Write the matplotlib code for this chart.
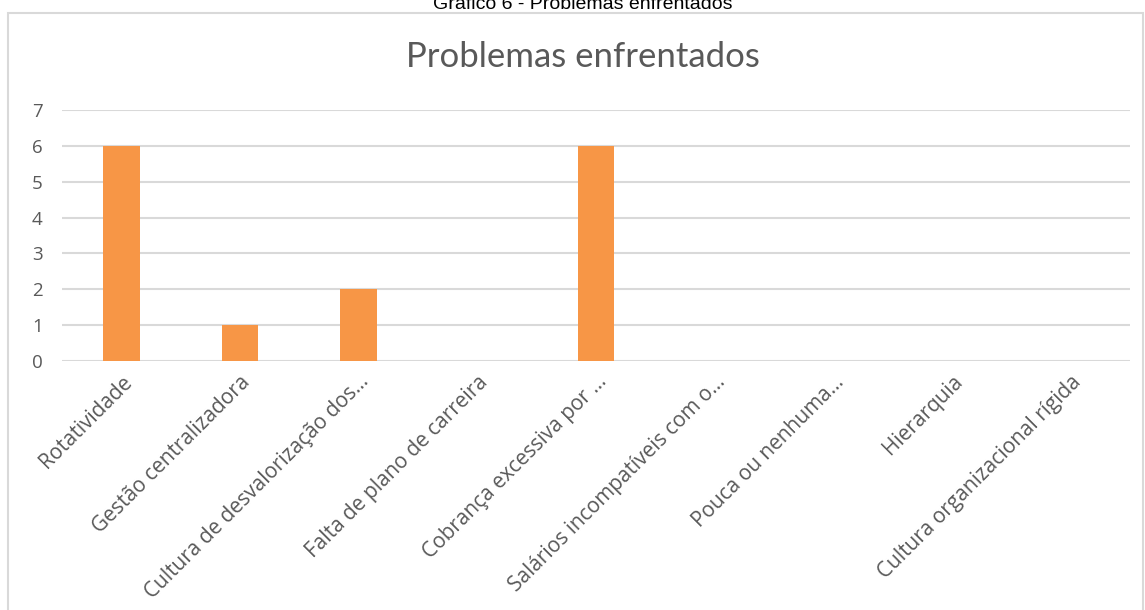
"""Bar chart of reported problems"""

import matplotlib
matplotlib.use('Agg')
from matplotlib import pyplot as plt
from matplotlib.patches import Rectangle
from matplotlib.transforms import ScaledTranslation

categories = ['Rotatividade', 'Gestão centralizadora', 'Cultura de desvalorização dos...',
              'Falta de plano de carreira', 'Cobrança excessiva por ...',
              'Salários incompatíveis com o...', 'Pouca ou nenhuma...', 'Hierarquia',
              'Cultura organizacional rígida']
counts = [6, 1, 2, 0, 6, 0, 0, 0, 0]
yticks = [0, 1, 2, 3, 4, 5, 6, 7]

W, H = 1145, 610
text_color = '#595959'
grid_color = '#D9D9D9'

fig = plt.figure(figsize=(W / 100, H / 100), dpi=100)
fig.patch.set_facecolor('white')

# outer chart frame
fig.patches.append(Rectangle((8 / W, -0.05), 1135 / W, 1.05 - 13 / H,
                             transform=fig.transFigure, fill=False,
                             edgecolor=grid_color, linewidth=1.5))

# caption above the frame, partly cut off
fig.text(583 / W, 1 - 9 / H, 'Gráfico 6 - Problemas enfrentados',
         family='Liberation Sans', fontsize=14, color='black',
         ha='center', va='baseline')

ax = fig.add_axes([62 / W, 1 - 361 / H, (1130 - 62) / W, (361 - 110) / H])
x = range(len(categories))
ax.bar(x, counts, width=0.31, color='#F79646', zorder=3)
ax.set_xlim(-0.5, len(categories) - 0.5)
ax.set_ylim(0, 7)
ax.set_yticks(yticks)
ax.set_yticklabels([str(v) for v in yticks], family='Open Sans', fontsize=13.5,
                   color=text_color)
ax.set_xticks(list(x))
ax.set_xticklabels(categories, rotation=45, ha='right', rotation_mode='anchor',
                   family='Open Sans', fontsize=15, color=text_color)
# nudge the slanted labels a little to the right of each category
shift = ScaledTranslation(7 / 100, 0, fig.dpi_scale_trans)
for lbl in ax.get_xticklabels():
    lbl.set_transform(lbl.get_transform() + shift)
ax.tick_params(length=0)
ax.tick_params(axis='y', pad=14)
ax.tick_params(axis='x', pad=7.5)
ax.yaxis.grid(True, color=grid_color, linewidth=1.5, zorder=0)
ax.set_axisbelow(True)
for s in ax.spines.values():
    s.set_visible(False)

fig.text(583 / W, 1 - 57 / H, 'Problemas enfrentados', family='Lato', fontsize=25,
         color=text_color, ha='center', va='center')

fig.savefig('out.png', dpi=100)
